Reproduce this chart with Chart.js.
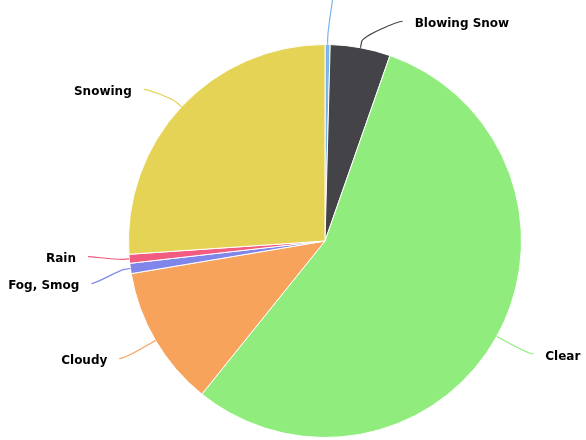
<!DOCTYPE html>
<html>
<head>
<meta charset="utf-8">
<script src="https://cdn.jsdelivr.net/npm/chart.js@4"></script>
<style>
  html, body { margin: 0; padding: 0; background: #fff; }
  #wrap { width: 586px; height: 440px; }
</style>
</head>
<body>
<div id="wrap"><canvas id="grafico-meteo"></canvas></div>
<script>
const categorie = ["Blowing Sand", "Blowing Snow", "Clear", "Cloudy", "Fog, Smog", "Rain", "Snowing"];
const conteggi = [4, 47, 527, 110, 8, 7, 248];
const colori = ["#7cb5ec", "#434348", "#90ed7d", "#f7a35c", "#8085e9", "#f15c80", "#e4d354"];

const DISTANZA = 30;
const PASSO = 27;

// spread labels on one side so they don't overlap, drop the smallest if no room
function distribuisci(items, limite) {
  items.sort((a, b) => a.target - b.target);
  let attivi = items.slice();
  while (true) {
    const gruppi = [];
    attivi.forEach(it => {
      gruppi.push({ items: [it], centro: it.target });
      while (gruppi.length > 1) {
        const b = gruppi[gruppi.length - 1];
        const a = gruppi[gruppi.length - 2];
        const fineA = a.centro + a.items.length * PASSO / 2;
        const inizioB = b.centro - b.items.length * PASSO / 2;
        if (fineA <= inizioB) break;
        const tutti = a.items.concat(b.items);
        const centro = tutti.reduce((s, x) => s + x.target, 0) / tutti.length;
        gruppi.splice(-2, 2, { items: tutti, centro });
      }
    });
    const fuori = gruppi.find(g => g.centro - g.items.length * PASSO / 2 < limite && g.items.length > 1);
    if (!fuori) {
      gruppi.forEach(g => {
        const inizio = g.centro - g.items.length * PASSO / 2 + PASSO / 2;
        g.items.forEach((it, k) => { it.y = inizio + k * PASSO; });
      });
      return;
    }
    const minimo = fuori.items.reduce((m, x) => (x.val < m.val ? x : m));
    minimo.nascosto = true;
    attivi = attivi.filter(x => x !== minimo);
  }
}

const etichettePlugin = {
  id: 'etichette',
  afterDatasetsDraw(chart) {
    const ctx = chart.ctx;
    const meta = chart.getDatasetMeta(0);
    const lati = { left: [], right: [] };
    let cx = 0, cy = 0, r = 0;

    meta.data.forEach((arc, i) => {
      const p = arc.getProps(['x', 'y', 'startAngle', 'endAngle', 'outerRadius'], true);
      cx = p.x; cy = p.y; r = p.outerRadius;
      const mid = (p.startAngle + p.endAngle) / 2;
      const destra = Math.cos(mid) >= 0;
      const item = { i, mid, destra, val: conteggi[i], target: p.y + Math.sin(mid) * (p.outerRadius + DISTANZA) + 1.5 };
      lati[destra ? 'right' : 'left'].push(item);
    });

    distribuisci(lati.left, 0);
    distribuisci(lati.right, 0);

    ctx.save();
    ctx.font = 'bold 12px "DejaVu Sans"';
    ctx.textBaseline = 'middle';
    ctx.lineWidth = 1.2;

    lati.left.concat(lati.right).forEach(it => {
      const segno = it.destra ? 1 : -1;
      let ex, ey;
      if (it.nascosto) {
        ex = cx + 20;
        ey = -60;
      } else {
        ey = it.y + 1.5;
        const R = r + DISTANZA;
        const dy = (ey - cy) * 0.985;
        const dx = Math.sqrt(Math.max(R * R - dy * dy, 0));
        ex = cx + segno * (dx + 11);
      }
      const cos = Math.cos(it.mid), sin = Math.sin(it.mid);
      const tocca = { x: cx + cos * r, y: cy + sin * r };
      const rompe = { x: cx + cos * (r + 6), y: cy + sin * (r + 6) };
      const ctrl = { x: cx + cos * (r + 12), y: cy + sin * (r + 12) };

      ctx.strokeStyle = colori[it.i];
      ctx.beginPath();
      ctx.moveTo(ex, ey);
      ctx.bezierCurveTo(ex - segno * 5, ey, ctrl.x, ctrl.y, rompe.x, rompe.y);
      ctx.lineTo(tocca.x, tocca.y);
      ctx.stroke();

      if (!it.nascosto) {
        ctx.fillStyle = '#000';
        ctx.textAlign = it.destra ? 'left' : 'right';
        ctx.fillText(categorie[it.i], ex + segno * 12, it.y + 4);
      }
    });
    ctx.restore();
  }
};

const ctx = document.getElementById("grafico-meteo").getContext("2d");

new Chart(ctx, {
  type: 'pie',
  data: {
    labels: categorie,
    datasets: [{
      data: conteggi,
      backgroundColor: colori,
      borderColor: '#ffffff',
      borderWidth: 1
    }]
  },
  options: {
    responsive: true,
    maintainAspectRatio: false,
    animation: false,
    layout: {
      padding: { left: 128, right: 64, top: 44, bottom: 2 }
    },
    plugins: {
      legend: { display: false },
      tooltip: { enabled: true }
    }
  },
  plugins: [etichettePlugin]
});
</script>
</body>
</html>
